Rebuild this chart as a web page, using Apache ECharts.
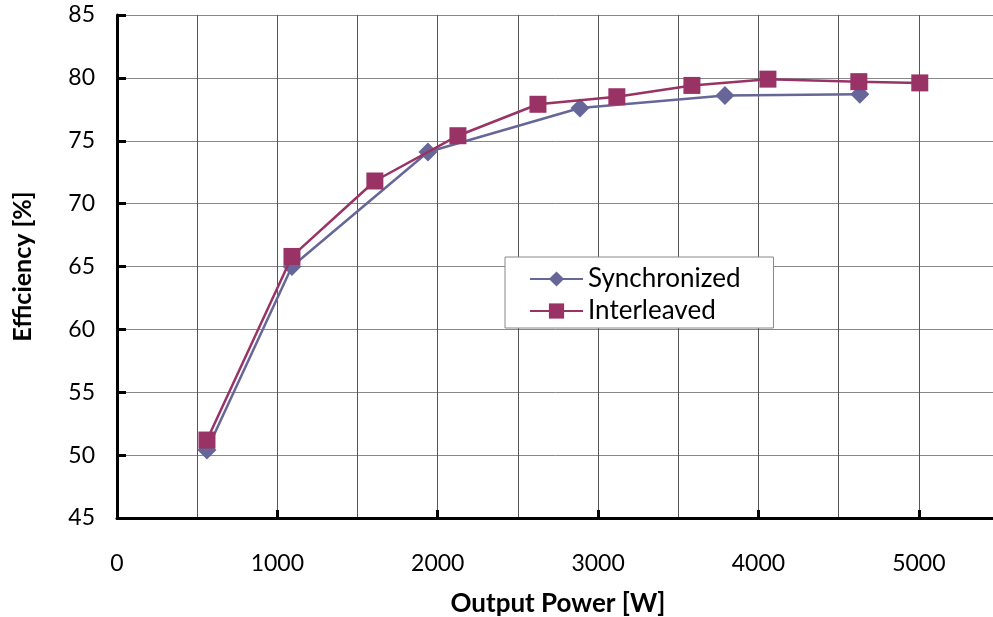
<!DOCTYPE html>
<html>
<head>
<meta charset="utf-8">
<script src="https://cdn.jsdelivr.net/npm/echarts@6/dist/echarts.min.js"></script>
<style>
  html, body { margin: 0; padding: 0; background: #fff; }
  #chart { width: 993px; height: 617px; }
</style>
</head>
<body>
<div id="chart"></div>
<script>
// Output power [W] and efficiency [%] for each operating mode
const syncPower = [561, 1091, 1939, 2887, 3791, 4632];
const syncEff   = [50.4, 65.0, 74.1, 77.6, 78.6, 78.7];

const interPower = [561, 1091, 1608, 2126, 2625, 3117, 3585, 4059, 4626, 5006];
const interEff   = [51.2, 65.8, 71.8, 75.4, 77.9, 78.5, 79.4, 79.9, 79.7, 79.6];

const seriesNames = ['Synchronized', 'Interleaved'];

const FONT = 'Lato, "Liberation Sans", sans-serif';

const pairs = (xs, ys) => xs.map((x, i) => [x, ys[i]]);

const chart = echarts.init(document.getElementById('chart'), null, { renderer: 'canvas' });

chart.setOption({
  animation: false,
  backgroundColor: '#ffffff',
  grid: { left: 117, right: -6, top: 15, bottom: 99, containLabel: false, outerBoundsMode: 'none' },
  xAxis: {
    type: 'value',
    min: 0,
    max: 5500,
    interval: 1000,
    name: 'Output Power [W]',
    nameLocation: 'middle',
    nameGap: 73,
    nameTextStyle: { fontFamily: FONT, fontSize: 26, fontWeight: 'bold', color: '#000' },
    axisLine: { show: true, onZero: false, lineStyle: { color: '#000', width: 3 } },
    axisTick: { show: true, inside: true, length: 8, lineStyle: { color: '#000', width: 3 } },
    axisLabel: {
      margin: 34, fontFamily: FONT, fontSize: 23, color: '#000',
      formatter: v => (v % 1000 === 0 && v <= 5000) ? String(v) : ''
    },
    splitLine: { show: true, lineStyle: { color: '#555', width: 1 } },
    minorTick: { show: false, splitNumber: 2 },
    minorSplitLine: { show: true, lineStyle: { color: '#555', width: 1 } }
  },
  yAxis: {
    type: 'value',
    min: 45,
    max: 85,
    interval: 5,
    name: 'Efficiency [%]',
    nameLocation: 'middle',
    nameGap: 82,
    nameTextStyle: { fontFamily: FONT, fontSize: 25, fontWeight: 'bold', color: '#000' },
    axisLine: { show: true, lineStyle: { color: '#000', width: 3 } },
    axisTick: { show: true, inside: true, length: 9, lineStyle: { color: '#000', width: 3 } },
    axisLabel: { margin: 22, fontFamily: FONT, fontSize: 23, color: '#000' },
    splitLine: { show: true, lineStyle: { color: '#888', width: 1 } }
  },
  legend: {
    orient: 'vertical',
    left: 505,
    top: 257,
    backgroundColor: '#fff',
    borderColor: '#888',
    borderWidth: 1,
    padding: [9, 33, 4, 24],
    itemWidth: 53,
    itemHeight: 19,
    itemGap: 6,
    textStyle: { fontFamily: FONT, fontSize: 26, color: '#000' },
    data: seriesNames
  },
  series: [
    {
      name: seriesNames[0],
      type: 'line',
      data: pairs(syncPower, syncEff),
      symbol: 'diamond',
      symbolSize: 19,
      itemStyle: { color: '#666699' },
      lineStyle: { color: '#666699', width: 2.5 },
      z: 2
    },
    {
      name: seriesNames[1],
      type: 'line',
      data: pairs(interPower, interEff),
      symbol: 'rect',
      symbolSize: 17,
      itemStyle: { color: '#993366' },
      lineStyle: { color: '#993366', width: 2.5 },
      z: 3
    }
  ]
});
</script>
</body>
</html>
